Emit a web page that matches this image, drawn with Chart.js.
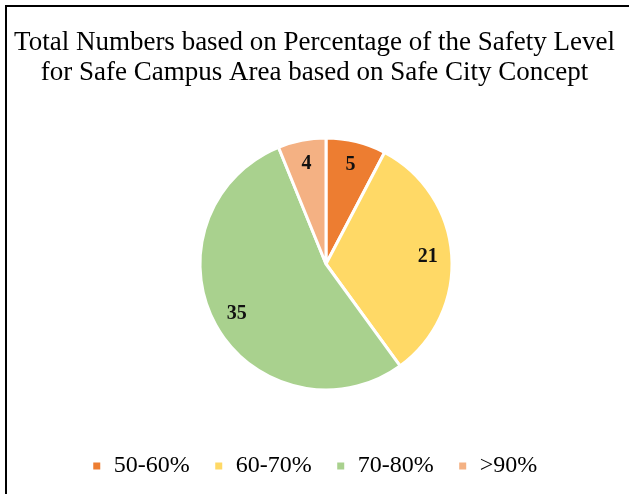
<!DOCTYPE html>
<html>
<head>
<meta charset="utf-8">
<script src="https://cdn.jsdelivr.net/npm/chart.js@4/dist/chart.umd.min.js"></script>
<style>
  html, body { margin: 0; padding: 0; background: #fff; overflow: hidden; }
  #wrap { position: absolute; left: 0; top: 0; width: 629px; height: 488px; }
  #frame { position: absolute; left: 5px; top: 5px; width: 700px; height: 600px;
           border-top: 2px solid #000; border-left: 2px solid #000; pointer-events: none; }
</style>
</head>
<body>
<div id="wrap"><canvas id="pie"></canvas></div>
<div id="frame"></div>
<script>
const titleLines = ['Total Numbers based on Percentage of the Safety Level',
                    'for Safe Campus Area based on Safe City Concept'];
const categories = ['50-60%', '60-70%', '70-80%', '>90%'];
const counts = [5, 21, 35, 4];
const colors = ['#ED7D31', '#FFD966', '#A9D18E', '#F4B183'];

// narrow invisible box on the left, pushes the pie right of the title centre
const leftSpacer = {
  id: 'leftSpacer',
  beforeInit(chart) {
    const box = {
      position: 'left', weight: 0, fullSize: false,
      options: { stackWeight: 1 },
      left: 0, top: 0, right: 0, bottom: 0, width: 0, height: 0,
      isHorizontal() { return false; },
      update(maxW, maxH) { this.width = 23; this.height = maxH; },
      draw() {}
    };
    Chart.layouts.addBox(chart, box);
  }
};

// value labels inside the slices
const sliceLabels = {
  id: 'sliceLabels',
  afterDatasetsDraw(chart) {
    const ctx = chart.ctx;
    const meta = chart.getDatasetMeta(0);
    ctx.save();
    ctx.font = 'bold 20px "Liberation Serif", "Times New Roman", serif';
    ctx.fillStyle = '#111';
    ctx.textAlign = 'center';
    ctx.textBaseline = 'middle';
    meta.data.forEach((arc, i) => {
      const p = arc.getProps(['x', 'y', 'startAngle', 'endAngle', 'outerRadius'], true);
      const a = (p.startAngle + p.endAngle) / 2;
      const r = p.outerRadius * 0.81;
      ctx.fillText(String(counts[i]), p.x + Math.cos(a) * r, p.y + Math.sin(a) * r);
    });
    ctx.restore();
  }
};

new Chart(document.getElementById('pie'), {
  type: 'pie',
  data: {
    labels: categories,
    datasets: [{
      data: counts,
      backgroundColor: colors,
      borderColor: '#fff',
      borderWidth: 3,
      radius: 126
    }]
  },
  options: {
    responsive: true,
    maintainAspectRatio: false,
    animation: false,
    layout: { padding: 0 },
    plugins: {
      title: {
        display: true,
        text: titleLines,
        color: '#000',
        font: { family: '"Liberation Serif", "Times New Roman", serif', size: 27, weight: 'normal', lineHeight: '30px' },
        padding: { top: 28, bottom: 10 }
      },
      legend: {
        position: 'bottom',
        labels: {
          color: '#000',
          boxWidth: 10,
          boxHeight: 10,
          padding: 24,
          font: { family: '"Liberation Serif", "Times New Roman", serif', size: 24 }
        }
      },
      tooltip: { enabled: false }
    }
  },
  plugins: [leftSpacer, sliceLabels]
});
</script>
</body>
</html>
